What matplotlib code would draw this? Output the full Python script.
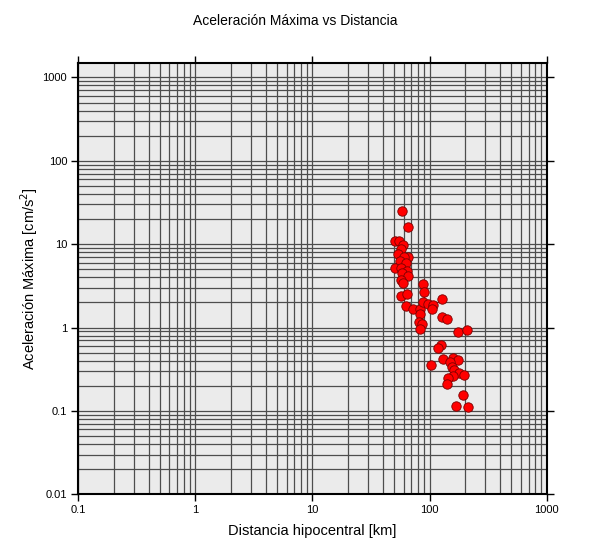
import numpy as np
import matplotlib
matplotlib.use('Agg')
import matplotlib.pyplot as plt
from matplotlib.ticker import LogLocator, FixedLocator, NullFormatter

# Distancia hipocentral [km] y aceleracion maxima [cm/s^2]
distancia = [57.9, 65.9, 50.8, 55.2, 59.0, 57.1, 54.1, 65.9, 60.6, 56.0,
             62.6, 50.8, 57.1, 64.6, 57.9, 65.9, 57.1, 59.0, 87.5, 89.7,
             57.1, 63.9, 63.0, 72.7, 83.0, 128.6, 88.5, 96.5, 107.8, 104.4,
             83.0, 127.1, 140.3, 81.8, 85.4, 83.0, 176.2, 207.8, 125.4, 117.0,
             103.0, 129.6, 157.8, 174.1, 149.6, 154.7, 162.5, 179.3, 197.1, 159.7,
             144.7, 141.9, 192.1, 168.4, 214.5]
aceleracion = [24.7, 15.9, 11.0, 10.8, 9.65, 8.73, 7.67, 7.0, 7.0, 6.2,
               5.93, 5.25, 5.25, 4.79, 4.50, 4.10, 3.74, 3.44, 3.32, 2.65,
               2.40, 2.50, 1.80, 1.65, 1.66, 2.21, 2.05, 1.93, 1.86, 1.66,
               1.45, 1.33, 1.26, 1.17, 1.09, 0.965, 0.888, 0.931, 0.625, 0.575,
               0.354, 0.421, 0.429, 0.410, 0.388, 0.340, 0.311, 0.284, 0.267, 0.263,
               0.247, 0.210, 0.156, 0.116, 0.110]

x_ticks = [0.1, 1, 10, 100, 1000]
x_labels = ['0.1', '1', '10', '100', '1000']
y_ticks = [0.01, 0.1, 1, 10, 100, 1000]
y_labels = ['0.01', '0.1', '1', '10', '100', '1000']

plt.rcParams['font.family'] = ['Liberation Sans', 'DejaVu Sans']

fig = plt.figure(figsize=(5.9, 5.6), dpi=100)
ax = fig.add_axes([0.1327, 0.1173, 0.7939, 0.7707])
ax.set_facecolor('#ebebeb')
ax.set_xscale('log')
ax.set_yscale('log')
ax.set_xlim(0.1, 1000)
ax.set_ylim(0.01, 1500)

# rejilla en 1..9 de cada decada
ax.xaxis.set_minor_locator(LogLocator(base=10, subs=np.arange(2, 10)))
ax.yaxis.set_minor_locator(LogLocator(base=10, subs=np.arange(2, 10)))
ax.xaxis.set_minor_formatter(NullFormatter())
ax.yaxis.set_minor_formatter(NullFormatter())
ax.grid(True, which='both', color='#4d4d4d', linewidth=0.9)
ax.set_axisbelow(True)

ax.xaxis.set_major_locator(FixedLocator(x_ticks))
ax.yaxis.set_major_locator(FixedLocator(y_ticks))
ax.set_xticklabels(x_labels)
ax.set_yticklabels(y_labels)
ax.tick_params(which='major', direction='out', length=5, width=1,
               top=True, right=True, labelsize=8, pad=3)
ax.tick_params(which='minor', length=0)

for s in ax.spines.values():
    s.set_linewidth(1.5)

ax.scatter(distancia, aceleracion, s=46, c='#ff0000', edgecolors='#7a0000',
           linewidths=0.6, zorder=3, clip_on=False)

ax.set_xlabel('Distancia hipocentral [km]', fontsize=10.5, labelpad=6)
ax.set_ylabel('Aceleración Máxima [cm/s$^2$]', fontsize=10.5, labelpad=2)
fig.suptitle('Aceleración Máxima vs Distancia', fontsize=10, y=0.975)

fig.savefig('out.png', dpi=100)
